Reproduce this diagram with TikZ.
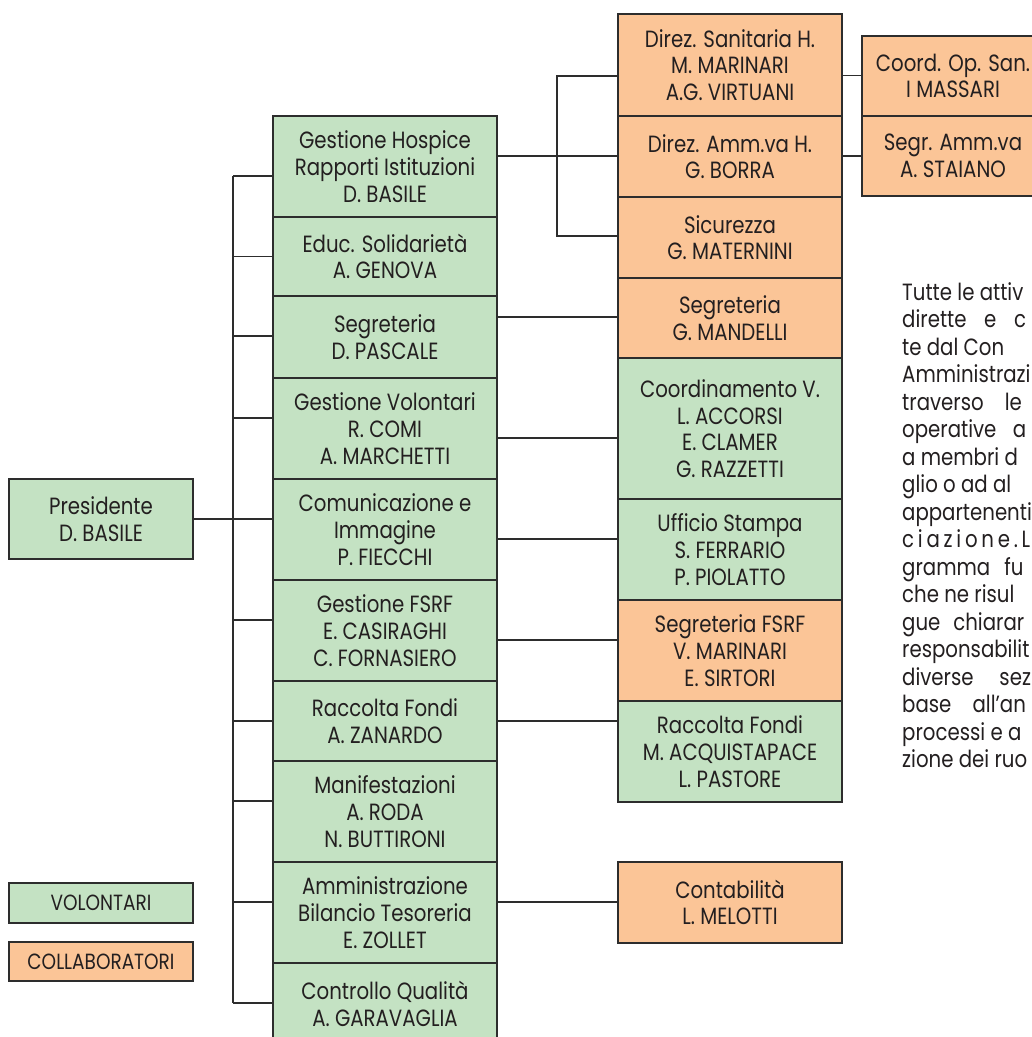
\documentclass[tikz,border=0pt]{standalone}
\usepackage{fontspec}
\setmainfont{Poppins}[FakeStretch=0.84]
\definecolor{volg}{RGB}{196,226,195}
\definecolor{colo}{RGB}{251,197,151}
\definecolor{edge}{RGB}{45,45,45}
\definecolor{ink}{RGB}{35,31,32}
\begin{document}
\begin{tikzpicture}[x=1pt,y=-1pt,
  box/.style={draw=edge, line width=1.8pt, minimum width=224pt, inner sep=0pt,
    align=center, text=ink, font=\fontsize{23.5}{26.7}\selectfont},
  vol/.style={box, fill=volg},
  col/.style={box, fill=colo},
  label/.style={inner sep=0pt, align=center, text=ink, font=\fontsize{23.5}{26.7}\selectfont},
  conn/.style={draw=edge, line width=1.4pt},
  para/.style={anchor=base west, inner sep=0pt, text=ink, font=\fontsize{23.5}{26}\selectfont}]
\useasboundingbox (0,0) rectangle (1032,1037);
% ---------- coordinates for connector levels
\coordinate (b1) at (233,176);
\coordinate (b2) at (233,256.5);
\coordinate (b3) at (233,336);
\coordinate (b4) at (233,418);
\coordinate (b5) at (233,519);
\coordinate (b6) at (233,620);
\coordinate (b7) at (233,721);
\coordinate (b8) at (233,801);
\coordinate (b9) at (233,902);
\coordinate (b10) at (233,1003);
\coordinate (hj) at (557,156);
\coordinate (ht) at (557,76);
\coordinate (hb) at (557,236);
\coordinate (r1) at (0,317);
\coordinate (r2) at (0,438);
\coordinate (r3) at (0,539);
\coordinate (r4) at (0,640);
\coordinate (r5) at (0,721);
\coordinate (r6) at (0,902);
\coordinate (f1) at (0,75.5);
\coordinate (f2) at (0,156);
% ---------- nodes
\node[vol, minimum width=184pt, minimum height=80pt] (pres) at (101,519) {Presidente\\D. BASILE};

\node[vol, minimum height=101pt] (gh)   at (385,166.5) {Gestione Hospice\\Rapporti Istituzioni\\D. BASILE};
\node[vol, minimum height=79pt]  (edu)  at (385,256.5) {Educ. Solidarietà\\A. GENOVA};
\node[vol, minimum height=82pt]  (seg)  at (385,337)   {Segreteria\\D. PASCALE};
\node[vol, minimum height=101pt] (gv)   at (385,428.5) {Gestione Volontari\\R. COMI\\A. MARCHETTI};
\node[vol, minimum height=101pt] (com)  at (385,529.5) {Comunicazione e\\Immagine\\P. FIECCHI};
\node[vol, minimum height=101pt] (fsrf) at (385,630.5) {Gestione FSRF\\E. CASIRAGHI\\C. FORNASIERO};
\node[vol, minimum height=80pt]  (rf)   at (385,721)   {Raccolta Fondi\\A. ZANARDO};
\node[vol, minimum height=101pt] (man)  at (385,811.5) {Manifestazioni\\A. RODA\\N. BUTTIRONI};
\node[vol, minimum height=101pt] (amm)  at (385,912.5) {Amministrazione\\Bilancio Tesoreria\\E. ZOLLET};
\node[vol, minimum height=110pt] (cq) at (385,1018) {};
\node[label] (cqt) at (385,1004) {Controllo Qualità\\A. GARAVAGLIA};

\node[col, minimum height=102pt] (dsan)  at (730,65)    {Direz. Sanitaria H.\\M. MARINARI\\A.G. VIRTUANI};
\node[col, minimum height=81pt]  (damm)  at (730,156.5) {Direz. Amm.va H.\\G. BORRA};
\node[col, minimum height=81pt]  (sic)   at (730,237.5) {Sicurezza\\G. MATERNINI};
\node[col, minimum height=80pt]  (seg2)  at (730,318)   {Segreteria\\G. MANDELLI};
\node[vol, minimum height=141pt] (cv)    at (730,428.5) {Coordinamento V.\\L. ACCORSI\\E. CLAMER\\G. RAZZETTI};
\node[vol, minimum height=101pt] (us)    at (730,549.5) {Ufficio Stampa\\S. FERRARIO\\P. PIOLATTO};
\node[col, minimum height=101pt] (sfsrf) at (730,650.5) {Segreteria FSRF\\V. MARINARI\\E. SIRTORI};
\node[vol, minimum height=101pt] (rf2)   at (730,751.5) {Raccolta Fondi\\M. ACQUISTAPACE\\L. PASTORE};
\node[col, minimum height=81pt]  (cont)  at (730,902.5) {Contabilità\\L. MELOTTI};

\node[col, minimum width=182pt, minimum height=80pt] (cos) at (953,76)  {Coord. Op. San.\\I MASSARI};
\node[col, minimum width=182pt, minimum height=80pt] (sa)  at (953,156) {Segr. Amm.va\\A. STAIANO};

\node[vol, minimum width=184pt, minimum height=40pt, font=\fontsize{22}{24}\selectfont] (lv) at (101,903) {VOLONTARI};
\node[col, minimum width=184pt, minimum height=39pt, font=\fontsize{22}{24}\selectfont] (lc) at (101,961.5) {COLLABORATORI};

% ---------- connectors
\draw[conn] (b1) -- (b10);
\draw[conn] (pres.east) -- (b5);
\foreach \b/\n in {b1/gh,b2/edu,b3/seg,b4/gv,b5/com,b6/fsrf,b7/rf,b8/man,b9/amm,b10/cq}
  \draw[conn] (\b) -- (\b -| \n.west);
\draw[conn] (gh.east |- hj) -- (damm.west |- hj);
\draw[conn] (ht -| dsan.west) -- (ht) -- (hb) -- (hb -| sic.west);
\draw[conn] (seg.east |- r1) -- (seg2.west |- r1);
\draw[conn] (gv.east |- r2) -- (cv.west |- r2);
\draw[conn] (com.east |- r3) -- (us.west |- r3);
\draw[conn] (fsrf.east |- r4) -- (sfsrf.west |- r4);
\draw[conn] (rf.east |- r5) -- (rf2.west |- r5);
\draw[conn] (amm.east |- r6) -- (cont.west |- r6);
\draw[conn] (dsan.east |- f1) -- (cos.west |- f1);
\draw[conn] (damm.east |- f2) -- (sa.west |- f2);

% ---------- paragraph (cut by the page edge)
\node[para] (p1)  at (902,300)   {Tutte le attiv};
\node[para] (p2)  at (902,327.5) {dirette\hspace{0.75em}e\hspace{0.75em}c};
\node[para] (p3)  at (902,355)   {te dal Con};
\node[para] (p4)  at (902,382.5) {Amministrazi};
\node[para] (p5)  at (902,410)   {traverso\hspace{0.9em}le};
\node[para] (p6)  at (902,437.5) {operative\hspace{0.7em}a};
\node[para] (p7)  at (902,465)   {a membri d};
\node[para] (p8)  at (902,492.5) {glio o ad al};
\node[para] (p9)  at (902,520)   {appartenenti};
\node[para] (p10) at (902,547.5) {\addfontfeature{LetterSpace=16}ciazione.L};
\node[para] (p11) at (902,575)   {gramma\hspace{0.6em}fu};
\node[para] (p12) at (902,602.5) {che ne risul};
\node[para] (p13) at (902,630)   {gue\hspace{0.55em}chiarar};
\node[para] (p14) at (902,657.5) {responsabilit};
\node[para] (p15) at (902,685)   {diverse\hspace{1.1em}sez};
\node[para] (p16) at (902,712.5) {base\hspace{0.9em}all’an};
\node[para] (p17) at (902,740)   {processi e a};
\node[para] (p18) at (902,767.5) {zione dei ruo};
\end{tikzpicture}
\end{document}
